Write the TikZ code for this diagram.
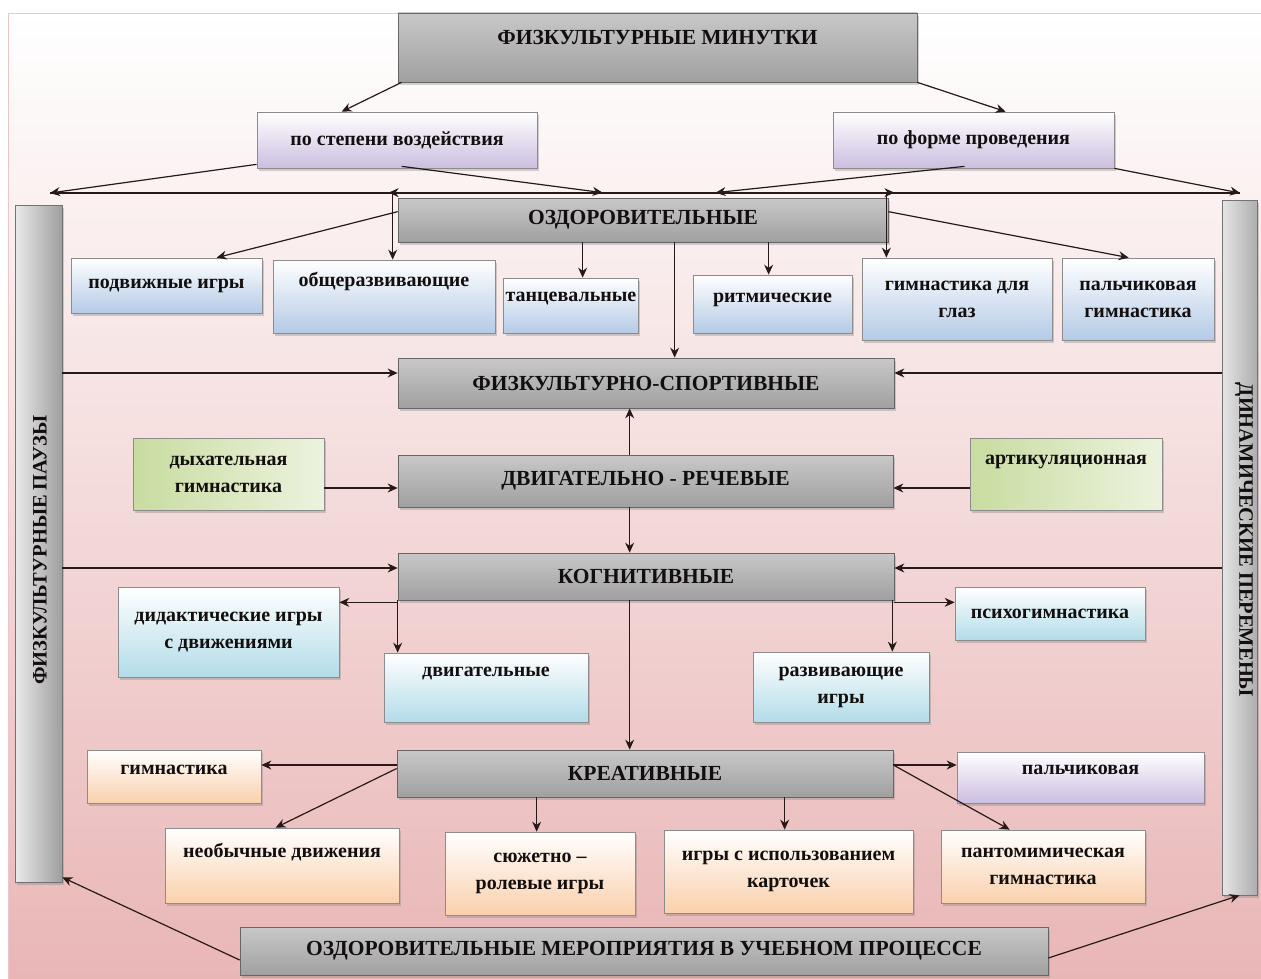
\documentclass[tikz,border=0pt]{standalone}
\usepackage{fontspec}
\setmainfont{Liberation Serif}
\usetikzlibrary{shadows,arrows.meta,calc}
\definecolor{lnk}{RGB}{40,25,25}
\definecolor{bgpink}{RGB}{233,182,182}
\definecolor{gtop}{RGB}{200,200,200}
\definecolor{gmid}{RGB}{218,218,218}
\definecolor{gbot}{RGB}{160,160,160}
\definecolor{lavb}{RGB}{204,190,224}
\definecolor{blub}{RGB}{180,202,230}
\definecolor{grnl}{RGB}{200,220,160}
\definecolor{grnr}{RGB}{236,243,222}
\definecolor{cynb}{RGB}{178,220,232}
\definecolor{orgb}{RGB}{250,208,172}
\definecolor{txt}{RGB}{20,15,15}
\tikzset{
  base/.style={draw=black!45, line width=0.7pt, inner xsep=2pt, inner ysep=0pt, align=center,
    text=txt, font=\bfseries\fontsize{20}{27}\selectfont,
    drop shadow={opacity=0.35, shadow xshift=2pt, shadow yshift=-3pt}},
  graybox/.style={base, draw=black!60, top color=gtop, middle color=gmid, bottom color=gbot,
    font=\bfseries\fontsize{21.5}{25}\selectfont},
  lavbox/.style={base, top color=white, bottom color=lavb},
  blubox/.style={base, top color=white, bottom color=blub},
  grnbox/.style={base, left color=grnl, right color=grnr},
  cynbox/.style={base, top color=white, bottom color=cynb},
  orgbox/.style={base, top color=white, bottom color=orgb},
  bartext/.style={text=txt, font=\bfseries\fontsize{20.5}{24}\selectfont},
  arr/.style={draw=lnk, line width=1.2pt, -{Stealth[length=10pt,width=9pt]}},
  ln/.style={draw=lnk, line width=1.2pt},
}
\begin{document}
\begin{tikzpicture}[x=1pt,y=-1pt]
\useasboundingbox (0,0) rectangle (1261,979);
\fill[white] (0,0) rectangle (1261,979);
\shade[top color=white, bottom color=bgpink] (8,14) rectangle (1261,979);
\draw[draw=bgpink!80!white, line width=1pt] (8,979) -- (8,14) -- (1261,14);

% vertical bars
\node[base, draw=black!55, left color=white!92!black, right color=black!38, minimum width=47pt, minimum height=677pt] (lbar) at (38.5,543.5) {};
\node[bartext, rotate=90] (lbartxt) at (40,550) {ФИЗКУЛЬТУРНЫЕ ПАУЗЫ};
\node[base, draw=black!55, left color=black!10, right color=black!32, minimum width=35pt, minimum height=695pt] (rbar) at (1239.5,547.5) {};
\node[bartext, rotate=-90] (rbartxt) at (1244,540) {ДИНАМИЧЕСКИЕ ПЕРЕМЕНЫ};

% top
\node[graybox, minimum width=519pt, minimum height=69pt, text height=31.6pt, text depth=37.4pt] (title) at (657.5,47.5) {ФИЗКУЛЬТУРНЫЕ МИНУТКИ};
\node[lavbox, minimum width=280pt, minimum height=56pt] (stepeni) at (397,140) {по степени воздействия};
\node[lavbox, minimum width=281pt, minimum height=56pt] (forme) at (973.5,140) {по форме проведения};

% main gray boxes
\node[graybox, minimum width=490pt, minimum height=44pt] (ozd) at (643,220) {ОЗДОРОВИТЕЛЬНЫЕ};
\node[graybox, minimum width=496pt, minimum height=50pt] (fsport) at (646,383) {ФИЗКУЛЬТУРНО-СПОРТИВНЫЕ};
\node[graybox, minimum width=495pt, minimum height=52pt] (dvr) at (645.5,481) {ДВИГАТЕЛЬНО - РЕЧЕВЫЕ};
\node[graybox, minimum width=496pt, minimum height=47pt] (kog) at (646,576.5) {КОГНИТИВНЫЕ};
\node[graybox, minimum width=496pt, minimum height=47pt] (kre) at (645,773.5) {КРЕАТИВНЫЕ};
\node[graybox, minimum width=808pt, minimum height=48pt] (ozm) at (644,951) {ОЗДОРОВИТЕЛЬНЫЕ МЕРОПРИЯТИЯ В УЧЕБНОМ ПРОЦЕССЕ};

% ozd children
\node[blubox, minimum width=191pt, minimum height=55pt] (podv) at (166.5,285.5) {подвижные игры};
\node[blubox, minimum width=222pt, minimum height=73pt, text height=26.6pt, text depth=46.4pt] (obsh) at (384,296.5) {общеразвивающие};
\node[blubox, minimum width=134pt, minimum height=55pt, text height=23.6pt, text depth=31.4pt] (tanc) at (571,305.5) {танцевальные};
\node[blubox, minimum width=159pt, minimum height=58pt, text height=27.6pt, text depth=30.4pt] (ritm) at (772.5,304) {ритмические};
\node[blubox, minimum width=190pt, minimum height=82pt] (glaz) at (957,299) {гимнастика для\\глаз};
\node[blubox, minimum width=152pt, minimum height=82pt] (palg) at (1138,299) {пальчиковая\\гимнастика};

% dvr children
\node[grnbox, minimum width=191pt, minimum height=72pt] (dyh) at (228.5,474) {дыхательная\\гимнастика};
\node[grnbox, minimum width=192pt, minimum height=72pt, text height=26.6pt, text depth=45.4pt] (art) at (1066,474) {артикуляционная};

% kog children
\node[cynbox, minimum width=221pt, minimum height=90pt] (did) at (228.5,632) {дидактические игры\\с движениями};
\node[cynbox, minimum width=204pt, minimum height=69pt, text height=23.6pt, text depth=45.4pt] (dvig) at (486,687.5) {двигательные};
\node[cynbox, minimum width=190pt, minimum height=53pt] (psih) at (1050,613.5) {психогимнастика};
\node[cynbox, minimum width=176pt, minimum height=70pt] (razv) at (841,687) {развивающие\\игры};

% kre children
\node[orgbox, minimum width=174pt, minimum height=53pt, text height=24.6pt, text depth=28.4pt] (gimn) at (174,776.5) {гимнастика};
\node[lavbox, minimum width=247pt, minimum height=51pt, text height=22.6pt, text depth=28.4pt] (palc) at (1080.5,777.5) {пальчиковая};
\node[orgbox, minimum width=234pt, minimum height=75pt, text height=29.6pt, text depth=45.4pt] (neob) at (282,865.5) {необычные движения};
\node[orgbox, minimum width=190pt, minimum height=83pt] (syuz) at (540,873.5) {сюжетно –\\ролевые игры};
\node[orgbox, minimum width=249pt, minimum height=83pt] (kart) at (788.5,871.5) {игры с использованием\\карточек};
\node[orgbox, minimum width=204pt, minimum height=73pt] (pant) at (1043,866.5) {пантомимическая\\гимнастика};

% free ends on the distribution line
\coordinate (pl) at (50,193);
\coordinate (pr) at (1240,193);

% connectors: top
\draw[arr] ([xshift=4pt]title.south west) -- ([xshift=85pt]stepeni.north west);
\draw[arr] (title.south east) -- ([xshift=173pt]forme.north west);
\draw[ln] (pl) -- (pr);
\draw[arr] ([yshift=4pt]stepeni.south west) -- (pl);
\draw[arr] (forme.south east) -- (pr);
\draw[arr] ([xshift=145pt,yshift=2pt]stepeni.south west) -- ([xshift=205pt,yshift=5pt]ozd.north west);
\draw[arr] ([xshift=132pt,yshift=2pt]forme.south west) -- ([xshift=318pt,yshift=5pt]ozd.north west);
\draw[arr] ([xshift=205pt,yshift=5pt]ozd.north west) -- ([xshift=-9pt,yshift=5pt]ozd.north west);
\draw[arr] ([xshift=318pt,yshift=5pt]ozd.north west) -- ([xshift=6pt,yshift=5pt]ozd.north east);

% ozd children
\draw[arr] ([xshift=-5pt,yshift=5pt]ozd.north west) -- ([xshift=-5pt]ozd.north west |- obsh.north);
\draw[arr] ([xshift=-2pt,yshift=5pt]ozd.north east) -- ([xshift=-2pt]ozd.north east |- glaz.north);
\draw[arr] ([yshift=-14pt]ozd.north west) -- ([xshift=146pt]podv.north west);
\draw[arr] ([yshift=-14pt]ozd.north east) -- ([xshift=67pt]palg.north west);
\draw[arr] ([xshift=185pt]ozd.south west) -- ([xshift=185pt]ozd.south west |- tanc.north);
\draw[arr] ([xshift=371pt]ozd.south west) -- ([xshift=371pt]ozd.south west |- ritm.north);
\draw[arr] ([xshift=277pt]ozd.south west) -- ([xshift=277pt]ozd.south west |- fsport.north);

% fsport
\draw[arr] ([yshift=10pt]fsport.west -| lbar.east) -- ([yshift=10pt]fsport.west);
\draw[arr] ([yshift=10pt]fsport.east -| rbar.west) -- ([yshift=10pt]fsport.east);
\draw[arr] ([xshift=232pt]dvr.north west) -- ([xshift=232pt]dvr.north west |- fsport.south);

% dvr
\draw[arr] ([yshift=-14pt]dyh.east) -- ([yshift=-14pt]dyh.east -| dvr.west);
\draw[arr] ([yshift=-14pt]art.west) -- ([yshift=-14pt]art.west -| dvr.east);
\draw[arr] ([xshift=232pt]dvr.south west) -- ([xshift=232pt]dvr.south west |- kog.north);

% kog
\draw[arr] ([yshift=8.5pt]kog.west -| lbar.east) -- ([yshift=8.5pt]kog.west);
\draw[arr] ([yshift=8.5pt]kog.east -| rbar.west) -- ([yshift=8.5pt]kog.east);
\draw[arr] ([yshift=-2pt]kog.south west) -- ([yshift=-2pt]kog.south west -| did.east);
\draw[arr] ([yshift=-2pt]kog.south east) -- ([yshift=-2pt]kog.south east -| psih.west);
\draw[arr] (kog.south west) -- (kog.south west |- dvig.north);
\draw[arr] ([xshift=-2pt]kog.south east) -- ([xshift=-2pt]kog.south east |- razv.north);
\draw[arr] ([xshift=232pt]kog.south west) -- ([xshift=232pt]kog.south west |- kre.north);

% kre
\draw[arr] ([yshift=8.5pt]kre.west) -- ([yshift=8.5pt]kre.west -| gimn.east);
\draw[arr] ([yshift=5pt]kre.west) -- ([xshift=111pt]neob.north west);
\draw[arr] ([xshift=140pt]kre.south west) -- ([xshift=140pt]kre.south west |- syuz.north);
\draw[arr] ([xshift=388pt]kre.south west) -- ([xshift=388pt]kre.south west |- kart.north);
\draw[arr] ([yshift=8.5pt]kre.east) -- ([yshift=8.5pt]kre.east -| palc.west);
\draw[arr] ([yshift=8.5pt]kre.east) -- ([xshift=69pt]pant.north west);

% bottom
\draw[arr] ([yshift=-9pt]ozm.west) -- ([yshift=5pt]lbar.south east);
\draw[arr] ([yshift=-7pt]ozm.east) -- (rbar.south);
\end{tikzpicture}
\end{document}
